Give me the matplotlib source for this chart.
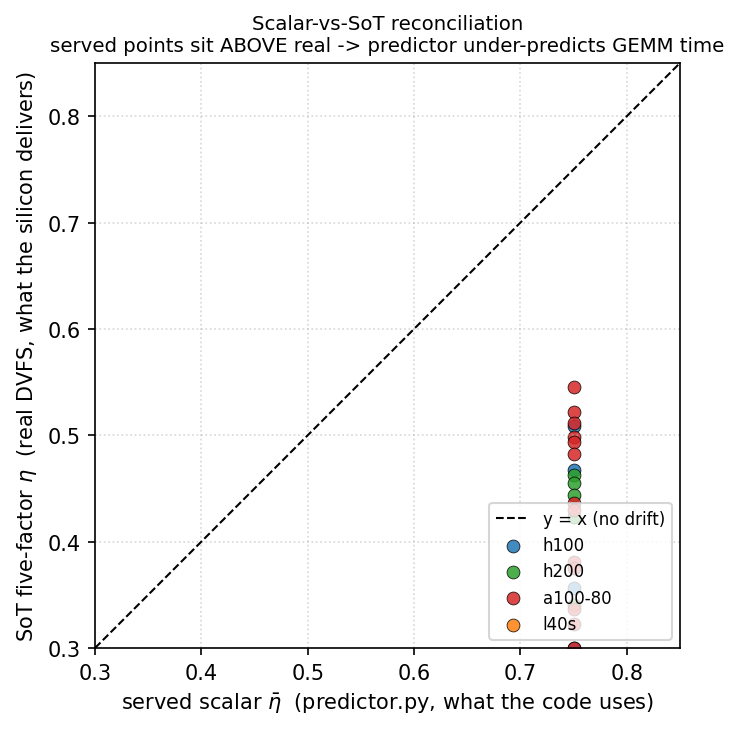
import matplotlib
matplotlib.use("Agg")
import matplotlib.pyplot as plt

# served scalar eta (every point sits at the same predictor value)
served_eta = 0.75

gpus = ["h100", "h200", "a100-80", "l40s"]
colors = ["tab:blue", "tab:green", "tab:red", "tab:orange"]

sot_h100 = [0.509, 0.467, 0.356, 0.300]
sot_h200 = [0.463, 0.455, 0.444, 0.423, 0.340]
sot_a100 = [0.545, 0.522, 0.512, 0.498, 0.494, 0.482, 0.436, 0.430,
            0.381, 0.375, 0.337, 0.323, 0.300]
sot_l40s = [0.270, 0.250]

series = [sot_h100, sot_h200, sot_a100, sot_l40s]

fig, ax = plt.subplots(figsize=(739 / 150, 730 / 150), dpi=150)
fig.subplots_adjust(left=95 / 739, right=680 / 739, top=1 - 64 / 730, bottom=1 - 649 / 730)

lo, hi = 0.3, 0.85
ax.plot([lo, hi], [lo, hi], "k--", lw=1, label="y = x (no drift)")

for g, c, vals in zip(gpus, colors, series):
    ax.scatter([served_eta] * len(vals), vals, s=38, color=c, alpha=0.85,
               edgecolor="black", linewidth=0.4, label=g)

ax.set_xlim(lo, hi)
ax.set_ylim(lo, hi)
ax.set_xticks([0.3, 0.4, 0.5, 0.6, 0.7, 0.8])
ax.set_yticks([0.3, 0.4, 0.5, 0.6, 0.7, 0.8])
ax.grid(True, linestyle=":", alpha=0.5)
ax.set_xlabel(r"served scalar $\bar{\eta}$  (predictor.py, what the code uses)", fontsize=10)
ax.set_ylabel(r"SoT five-factor $\eta$  (real DVFS, what the silicon delivers)", fontsize=10)
ax.set_title("Scalar-vs-SoT reconciliation\n"
             "served points sit ABOVE real -> predictor under-predicts GEMM time",
             fontsize=9.5)
ax.legend(loc="lower right", fontsize=8)

fig.savefig("out.png", dpi=150)
